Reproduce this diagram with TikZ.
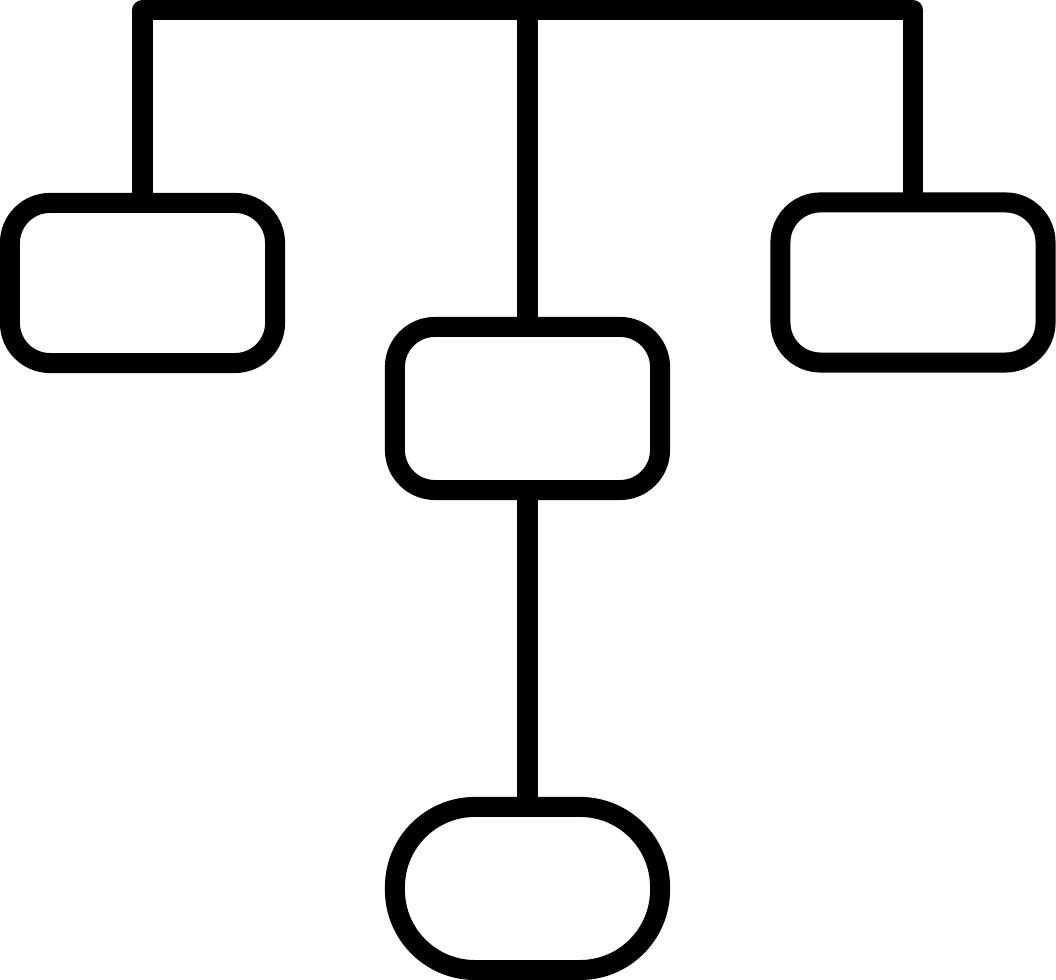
\documentclass[tikz,border=0pt]{standalone}
\begin{document}
\begin{tikzpicture}[x=0.01cm, y=-0.01cm, line width=0.2cm, line join=round,
  box/.style={draw, rounded corners=0.4cm, minimum width=2.65cm, minimum height=1.6cm, inner sep=0pt, outer sep=0pt},
  pill/.style={box, rounded corners=0.8cm, minimum height=1.63cm}]
  \useasboundingbox (0,0) rectangle (1056,980);

  \node[box] (l) at (142.5, 283) {};
  \node[box, minimum height=1.63cm] (m) at (527.5, 408.5) {};
  \node[box] (r) at (913, 282.5) {};
  \node[pill] (b) at (527.5, 888.5) {};

  \coordinate (tl) at (142.5, 10);
  \coordinate (tm) at (527.5, 10);
  \coordinate (tr) at (913, 10);

  \draw (l.north) -- (tl) -- (tr) -- (r.north);
  \draw (tm) -- (m.north);
  \draw (m.south) -- (b.north);
\end{tikzpicture}
\end{document}
